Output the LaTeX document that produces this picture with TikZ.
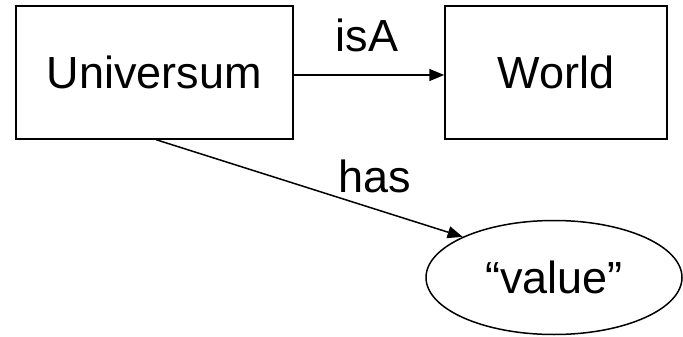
\documentclass[tikz,border=0pt]{standalone}
\usepackage{fontspec}
\setmainfont{Liberation Sans}
\usetikzlibrary{arrows.meta,shapes.geometric}
\tikzset{
  box/.style={draw, line width=1.5pt, rectangle, minimum height=133pt, inner sep=0pt, font=\fontsize{45}{54}\selectfont},
  oval/.style={draw, line width=1.5pt, ellipse, minimum width=256pt, minimum height=114pt, inner sep=0pt, font=\fontsize{45}{54}\selectfont},
  lbl/.style={anchor=base, inner sep=0pt, font=\fontsize{45}{54}\selectfont},
  conn/.style={line width=1.5pt, -{Triangle[length=15pt,width=12pt]}}
}
\begin{document}
\begin{tikzpicture}[x=1pt,y=-1pt]
\useasboundingbox (0,0) rectangle (683,337);
\node[box, minimum width=277pt] (U) at (154.5,72.5) {Universum};
\node[box, minimum width=222pt] (W) at (556,72.5) {World};
\node[oval] (V) at (554,277.5) {“value”};
\node[lbl] (isA) at (367,52) {isA};
\node[lbl] (has) at (375,192) {has};
\coordinate (ustart) at ([xshift=141pt]U.south west);
\draw[conn] ([yshift=-2.5pt]U.east) -- ([yshift=-2.5pt]W.west);
\draw[conn] (ustart) -- (V.156.3);
\end{tikzpicture}
\end{document}
